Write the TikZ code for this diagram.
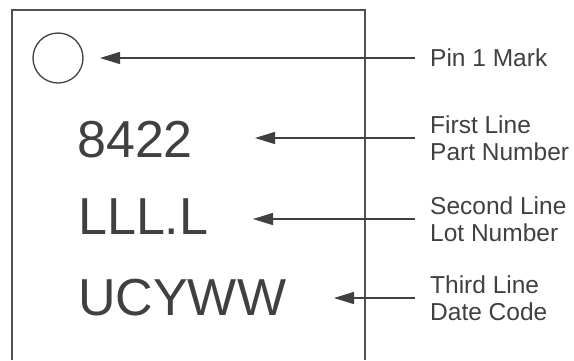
\documentclass[tikz,border=0pt]{standalone}
\usepackage{fontspec}
\setmainfont{Liberation Sans}
\usetikzlibrary{positioning, arrows.meta}
\definecolor{markgray}{HTML}{404040}
\definecolor{boxgray}{HTML}{505050}

\begin{document}
\begin{tikzpicture}[x=1pt, y=-1pt,
  big/.style={inner sep=0pt, anchor=base west, text=markgray, font=\fontsize{52}{52}\selectfont},
  lbl/.style={inner sep=0pt, anchor=west, align=left, text=markgray, font=\fontsize{24.5}{26.5}\selectfont},
  pointer/.style={draw=markgray, line width=1.5pt, shorten <=15pt, -{Triangle[length=20pt, width=12pt]}}]
\useasboundingbox (0,0) rectangle (574,360);

% package outline, open at the bottom
\draw[boxgray, line width=1.6pt] (12,360) -- (12,10) -- (365,10) -- (365,360);

\node[circle, draw=markgray, line width=1.3pt, minimum size=50pt, inner sep=0pt] (pin) at (58,58) {};
\node[big] (partnum) at (77,157) {8422};
\node[big] (lotnum) at (78,234) {LLL.L};
\node[big] (datecode) at (78,315) {UCYWW};

\node[lbl] (lblpin) at (430,58) {Pin 1 Mark};
\node[lbl] (lblpart) at (430,138) {First Line\\Part Number};
\node[lbl] (lbllot) at (430,219) {Second Line\\Lot Number};
\node[lbl] (lbldate) at (430,298) {Third Line\\Date Code};

\coordinate (tippin) at (100,58);
\coordinate (tippart) at (255,138);
\coordinate (tiplot) at (253,219);
\coordinate (tipdate) at (334,298);

\draw[pointer] (lblpin.west) -- (tippin);
\draw[pointer] (lblpart.west) -- (tippart);
\draw[pointer] (lbllot.west) -- (tiplot);
\draw[pointer] (lbldate.west) -- (tipdate);
\end{tikzpicture}
\end{document}
